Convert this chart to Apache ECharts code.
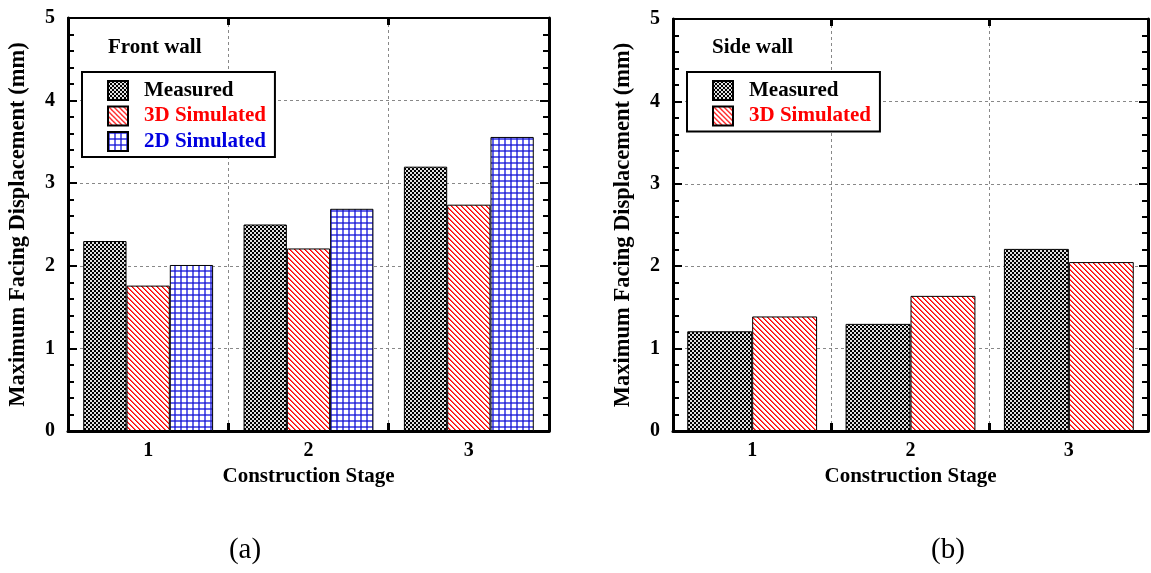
<!DOCTYPE html>
<html>
<head>
<meta charset="utf-8">
<script src="https://cdn.jsdelivr.net/npm/echarts@6/dist/echarts.min.js"></script>
<style>
html,body{margin:0;padding:0;background:#fff;}
#c{width:1151px;height:573px;}
</style>
</head>
<body>
<div id="c"></div>
<script>
// ---- data ----
const categories = ['1', '2', '3'];
const frontMeasured = [2.30, 2.50, 3.20];
const front3D = [1.76, 2.21, 2.74];
const front2D = [2.01, 2.69, 3.56];
const sideMeasured = [1.21, 1.30, 2.21];
const side3D = [1.39, 1.64, 2.05];
const yMin = 0, yMax = 5, yStep = 1;

// ---- patterns ----
function makeTile(size, fn) {
  const cv = document.createElement('canvas');
  cv.width = size; cv.height = size;
  const ctx = cv.getContext('2d');
  const img = ctx.createImageData(size, size);
  for (let y = 0; y < size; y++) for (let x = 0; x < size; x++) {
    const c = fn(x, y);
    const i = (y * size + x) * 4;
    img.data[i] = c[0]; img.data[i + 1] = c[1]; img.data[i + 2] = c[2]; img.data[i + 3] = 255;
  }
  ctx.putImageData(img, 0, 0);
  return cv;
}
const checkTile = makeTile(4, (x, y) => ((Math.floor(x / 2) + Math.floor(y / 2)) % 2 === 0) ? [0, 0, 0] : [225, 225, 225]);
const hatchTile = makeTile(5, (x, y) => { const d = ((x - y) % 5 + 5) % 5; return (d === 0) ? [255, 0, 0] : (d === 1 ? [255, 90, 90] : [255, 255, 255]); });
const gridTile = makeTile(6, (x, y) => {
  const vx = (x % 6) < 2, vy = (y % 6) < 2;
  if (vx && vy) return [50, 50, 205];
  if (vx || vy) return [100, 100, 235];
  return [255, 255, 255];
});
const pat = t => ({ image: t, repeat: 'repeat' });

const FONT = 'Liberation Serif';
const tickLbl = { fontFamily: FONT, fontWeight: 'bold', fontSize: 20, color: '#000' };
const split = { show: true, lineStyle: { color: '#888', width: 1, type: [3, 3] } };
const nCat = categories.length;

function xAxes(gi) {
  return [
    { type: 'category', gridIndex: gi, data: categories, position: 'bottom',
      axisLine: { onZero: false, lineStyle: { color: '#000', width: 3 } },
      axisTick: { show: false },
      axisLabel: Object.assign({ margin: 10 }, tickLbl),
      splitLine: split,
      name: 'Construction Stage', nameLocation: 'middle', nameGap: 33,
      nameTextStyle: { fontFamily: FONT, fontWeight: 'bold', fontSize: 21, color: '#000' } },
    // boundary ticks, top (also draws top frame line)
    { type: 'value', gridIndex: gi, position: 'top', min: 0, max: nCat, interval: 1,
      axisLine: { show: true, onZero: false, lineStyle: { color: '#000', width: 2 } },
      axisTick: { show: true, inside: true, length: 7, lineStyle: { color: '#000', width: 3 } },
      axisLabel: { show: false }, splitLine: { show: false } },
    // boundary ticks, bottom
    { type: 'value', gridIndex: gi, position: 'bottom', min: 0, max: nCat, interval: 1,
      axisLine: { show: false, onZero: false },
      axisTick: { show: true, inside: true, length: 8, lineStyle: { color: '#000', width: 3 } },
      axisLabel: { show: false }, splitLine: { show: false } }
  ];
}
function yAxes(gi) {
  const common = { type: 'value', gridIndex: gi, min: yMin, max: yMax, interval: yStep,
    axisLine: { show: true, onZero: false, lineStyle: { color: '#000', width: 3 } },
    axisTick: { show: true, inside: true, length: 9, lineStyle: { color: '#000', width: 2 } },
    minorTick: { show: true, splitNumber: 5, length: 6, lineStyle: { color: '#000', width: 2 } } };
  return [
    Object.assign({}, common, { position: 'left',
      axisLabel: Object.assign({ margin: 13 }, tickLbl), splitLine: split,
      name: 'Maximum Facing Displacement (mm)', nameLocation: 'middle', nameGap: 38,
      nameTextStyle: { fontFamily: FONT, fontWeight: 'bold', fontSize: 22.5, color: '#000' } }),
    Object.assign({}, common, { position: 'right', axisLabel: { show: false }, splitLine: { show: false } })
  ];
}
const border = { borderColor: '#000', borderWidth: 1 };
function bar(name, data, tile, xi, yi, gap) {
  return { type: 'bar', name: name, data: data, xAxisIndex: xi, yAxisIndex: yi,
    barGap: '0%', barCategoryGap: gap,
    itemStyle: Object.assign({ color: pat(tile) }, border) };
}
function legendItem(name, color) {
  return { name: name, textStyle: { color: color } };
}
const legendCommon = { orient: 'vertical', top: 72, borderColor: '#000', borderWidth: 2,
  padding: [8, 9, 5, 25], itemWidth: 20, itemHeight: 19, itemGap: 4.5, backgroundColor: '#fff',
  selectedMode: false, icon: 'rect',
  itemStyle: { borderColor: '#000', borderWidth: 2 },
  textStyle: { fontFamily: FONT, fontWeight: 'bold', fontSize: 21, lineHeight: 19, padding: [0, 0, 0, 11] } };

const chart = echarts.init(document.getElementById('c'), null, { renderer: 'canvas' });
chart.setOption({
  backgroundColor: '#fff',
  animation: false,
  grid: [
    { left: 68, top: 18, width: 481, height: 413 },
    { left: 673, top: 19, width: 475, height: 412 }
  ],
  xAxis: xAxes(0).concat(xAxes(1)),
  yAxis: yAxes(0).concat(yAxes(1)),
  title: [
    { text: 'Front wall', left: 108, top: 37, padding: 0,
      textStyle: { fontFamily: FONT, fontWeight: 'bold', fontSize: 21, color: '#000' } },
    { text: 'Side wall', left: 712, top: 37, padding: 0,
      textStyle: { fontFamily: FONT, fontWeight: 'bold', fontSize: 21, color: '#000' } },
    { text: '(a)', left: 245, top: 536, textAlign: 'center', padding: 0,
      textStyle: { fontFamily: FONT, fontWeight: 'normal', fontSize: 29, color: '#000' } },
    { text: '(b)', left: 948, top: 536, textAlign: 'center', padding: 0,
      textStyle: { fontFamily: FONT, fontWeight: 'normal', fontSize: 29, color: '#000' } }
  ],
  legend: [
    Object.assign({}, legendCommon, { left: 82,
      data: [legendItem('Measured', '#000'), legendItem('3D Simulated', '#ff0000'), legendItem('2D Simulated', '#0000e0')] }),
    Object.assign({}, legendCommon, { left: 687,
      data: [legendItem('Measured', '#000'), legendItem('3D Simulated', '#ff0000')] })
  ],
  series: [
    bar('Measured', frontMeasured, checkTile, 0, 0, '19%'),
    bar('3D Simulated', front3D, hatchTile, 0, 0, '19%'),
    bar('2D Simulated', front2D, gridTile, 0, 0, '19%'),
    bar('Measured', sideMeasured, checkTile, 3, 2, '18%'),
    bar('3D Simulated', side3D, hatchTile, 3, 2, '18%')
  ]
});
</script>
</body>
</html>
